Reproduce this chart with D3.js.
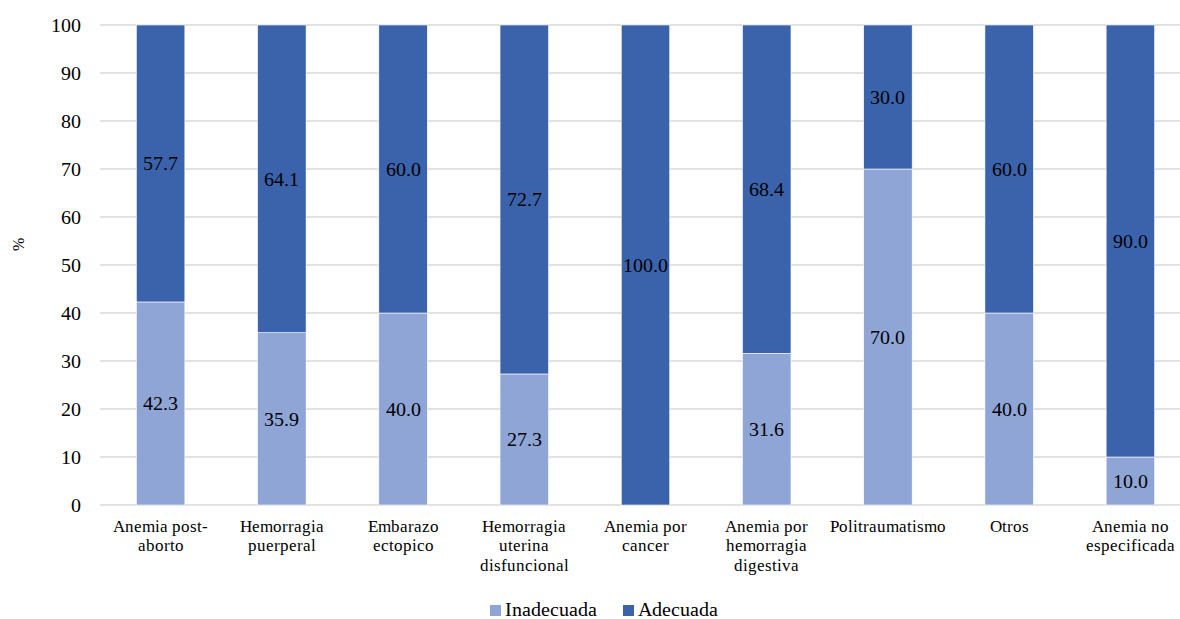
<!DOCTYPE html>
<html><head><meta charset="utf-8">
<script src="https://cdn.jsdelivr.net/npm/d3@7"></script>
<style>
@font-face{font-family:"ChartSerif";src:local("Liberation Serif"),local("LiberationSerif"),local("LiberationSerif-Regular"),local("Tinos"),local("Tinos-Regular"),local("DejaVu Serif"),local("DejaVuSerif"),local("Noto Serif"),local("NotoSerif-Regular"),local("FreeSerif");}
body{margin:0;background:#fff}svg{display:block}
svg text{font-family:"ChartSerif","Liberation Serif","DejaVu Serif",serif !important;fill:#000}
</style>
</head><body><svg id="c" width="1180" height="619"></svg>
<script>
const categories = [["Anemia post-","aborto"],["Hemorragia","puerperal"],["Embarazo","ectopico"],["Hemorragia","uterina","disfuncional"],["Anemia por","cancer"],["Anemia por","hemorragia","digestiva"],["Politraumatismo"],["Otros"],["Anemia no","especificada"]];
const inadecuada = [42.3, 35.9, 40.0, 27.3, 0, 31.6, 70.0, 40.0, 10.0];
const adecuada = [57.7, 64.1, 60.0, 72.7, 100.0, 68.4, 30.0, 60.0, 90.0];
const seriesNames = ["Inadecuada", "Adecuada"];
const colors = ["#8EA5D6", "#3B63AC"];
const yTicks = [0,10,20,30,40,50,60,70,80,90,100];

const FONT = '"ChartSerif", "Liberation Serif", "DejaVu Serif", serif';
const svg = d3.select("#c");
const m = {left:100, top:25, right:1191, bottom:505};
const x = d3.scaleBand().domain(d3.range(categories.length)).range([m.left, m.right]).paddingInner(0.6).paddingOuter(0.3);
const y = d3.scaleLinear().domain([0,100]).range([m.bottom, m.top]);

// gridlines
svg.append("g").selectAll("line").data(yTicks).join("line")
  .attr("x1", m.left).attr("x2", 1180)
  .attr("y1", d=>y(d)).attr("y2", d=>y(d))
  .attr("stroke", "#d9d9d9").attr("stroke-width", 1.5);

// y axis labels
const yAxis = d3.axisLeft(y).tickValues(yTicks).tickSize(0).tickPadding(19);
const ga = svg.append("g").attr("transform", `translate(${m.left},0)`).call(yAxis);
ga.attr("font-family", FONT).attr("font-size", 20);
ga.select(".domain").remove();
ga.selectAll("text").attr("font-size", 20).attr("fill", "#000");

// stacked data
const rows = categories.map((c,i)=>({i, Inadecuada: inadecuada[i], Adecuada: adecuada[i]}));
const stack = d3.stack().keys(seriesNames)(rows);

stack.forEach((s, si) => {
  const g = svg.append("g");
  g.selectAll("rect").data(s).join("rect")
    .attr("x", d => x(d.data.i))
    .attr("width", x.bandwidth())
    .attr("y", d => y(d[1]))
    .attr("height", d => y(d[0]) - y(d[1]))
    .attr("fill", colors[si])
    .attr("stroke", "#fff").attr("stroke-width", 0.6);
  g.selectAll("text").data(s.filter(d => d[1]-d[0] > 0)).join("text")
    .attr("x", d => x(d.data.i) + x.bandwidth()/2)
    .attr("y", d => y((d[0]+d[1])/2))
    .attr("dy", "0.35em")
    .attr("text-anchor", "middle")
    .attr("font-size", 20)
    .text(d => (d[1]-d[0]).toFixed(1));
});

// category labels
const cg = svg.append("g");
categories.forEach((lines, i) => {
  const t = cg.append("text").attr("text-anchor","middle").attr("font-size", 16.5)
    .attr("x", x(i) + x.bandwidth()/2).attr("y", 531.5);
  lines.forEach((l, k) => t.append("tspan").attr("x", x(i) + x.bandwidth()/2).attr("dy", k===0 ? 0 : 19.5).text(l));
});

// y title
svg.append("text").attr("transform", "translate(24,244) rotate(-90)")
  .attr("text-anchor","middle").attr("font-size", 16).text("%");

// legend
const legX = [490, 623];
seriesNames.forEach((n, i) => {
  svg.append("rect").attr("x", legX[i]).attr("y", 605).attr("width", 11).attr("height", 11).attr("fill", colors[i]);
  svg.append("text").attr("x", legX[i] + 15).attr("y", 615.5).attr("font-size", 20).text(n);
});
</script></body></html>
